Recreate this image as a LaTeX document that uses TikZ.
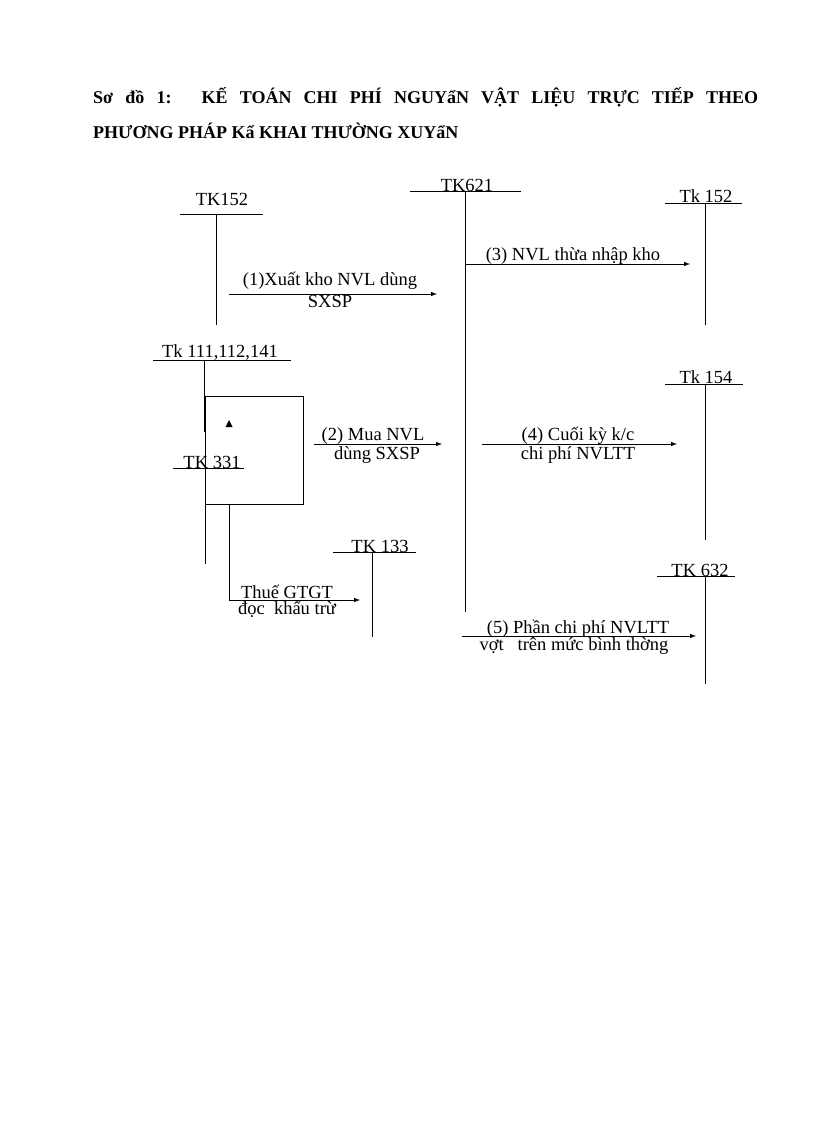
\documentclass[tikz,border=0pt]{standalone}
\usepackage{fontspec}
\setmainfont{Liberation Serif}
\begin{document}
\begin{tikzpicture}[x=1pt,y=-1pt,
  lab/.style={inner sep=0pt,font=\fontsize{18.5}{19}\selectfont},
  ln/.style={line width=1pt},
  arr/.style={line width=1pt,-latex}]
\useasboundingbox (0,0) rectangle (816,1123);
\node[anchor=west,inner sep=0pt,text width=665,align=justify,font=\fontsize{18}{35}\selectfont\bfseries] (title) at (93,113)
 {Sơ đồ 1:\quad\ KẾ TOÁN CHI PHÍ NGUYẩN VẬT LIỆU TRỰC TIẾP THEO\linebreak PHƯƠNG PHÁP Kẩ KHAI THƯỜNG XUYẩN};
% accounts
\node[lab] (t152) at (222,199) {TK152};
\draw[ln] (180,215) -- (263,215); \draw[ln] (216,215) -- (216,325);
\node[lab] (t621) at (467,185) {TK621};
\draw[ln] (410,192) -- (521,192); \draw[ln] (465,192) -- (465,612);
\node[lab] (t152b) at (706,196) {Tk 152};
\draw[ln] (665,204) -- (742,204); \draw[ln] (705,204) -- (705,325);
\node[lab] (t111) at (220,353) {Tk 111,112,141};
\draw[ln] (153,360) -- (291,360); \draw[ln] (204,360) -- (204,432);
\draw[ln] (205,396) rectangle (303,504);
\coordinate (tri) at (229,424);
\fill ([xshift=-3.5pt,yshift=-3pt]tri) -- ([xshift=3.5pt,yshift=-3pt]tri) -- ([yshift=4pt]tri) -- cycle;
\node[lab] (t331) at (212,462) {TK 331};
\draw[ln] (173,468) -- (244,468); \draw[ln] (205,468) -- (205,564);
\node[lab] (t133) at (380,546) {TK 133};
\draw[ln] (333,552) -- (416,552); \draw[ln] (372,552) -- (372,637);
\node[lab] (t154) at (706,377) {Tk 154};
\draw[ln] (665,384) -- (743,384); \draw[ln] (705,384) -- (705,540);
\node[lab] (t632) at (700,570) {TK 632};
\draw[ln] (657,576) -- (735,576); \draw[ln] (705,576) -- (705,684);
% arrows
\coordinate (a1s) at (229,294); \coordinate (a1e) at (437,294);
\draw[arr] (a1s) -- (a1e);
\node[lab] (l1a) at (330,281) {(1)Xuất kho NVL dùng};
\node[lab] (l1b) at (330,301) {SXSP};
\coordinate (a3s) at (465,264); \coordinate (a3e) at (690,264);
\draw[arr] (a3s) -- (a3e);
\node[lab] (l3) at (573,256) {(3) NVL thừa nhập kho};
\coordinate (a2s) at (314,444); \coordinate (a2e) at (442,444);
\draw[arr] (a2s) -- (a2e);
\node[lab] (l2a) at (373,436) {(2) Mua NVL};
\node[lab] (l2b) at (377,455) {dùng SXSP};
\coordinate (a4s) at (482,444); \coordinate (a4e) at (677,444);
\draw[arr] (a4s) -- (a4e);
\node[lab] (l4a) at (578,436) {(4) Cuối kỳ k/c};
\node[lab] (l4b) at (578,455) {chi phí NVLTT};
\coordinate (bs) at (229,504); \coordinate (bc) at (229,600); \coordinate (be) at (360,600);
\draw[arr] (bs) -- (bc) -- (be);
\node[lab] (lta) at (287,592) {Thuế GTGT};
\node[lab] (ltb) at (287,609) {đọc\ \ khấu trừ};
\coordinate (a5s) at (462,636); \coordinate (a5e) at (696,636);
\draw[arr] (a5s) -- (a5e);
\node[lab] (l5a) at (578,629) {(5) Phần chi phí NVLTT};
\node[lab] (l5b) at (574,646) {vợt\ \ \ trên mức bình thờng};
\end{tikzpicture}
\end{document}
